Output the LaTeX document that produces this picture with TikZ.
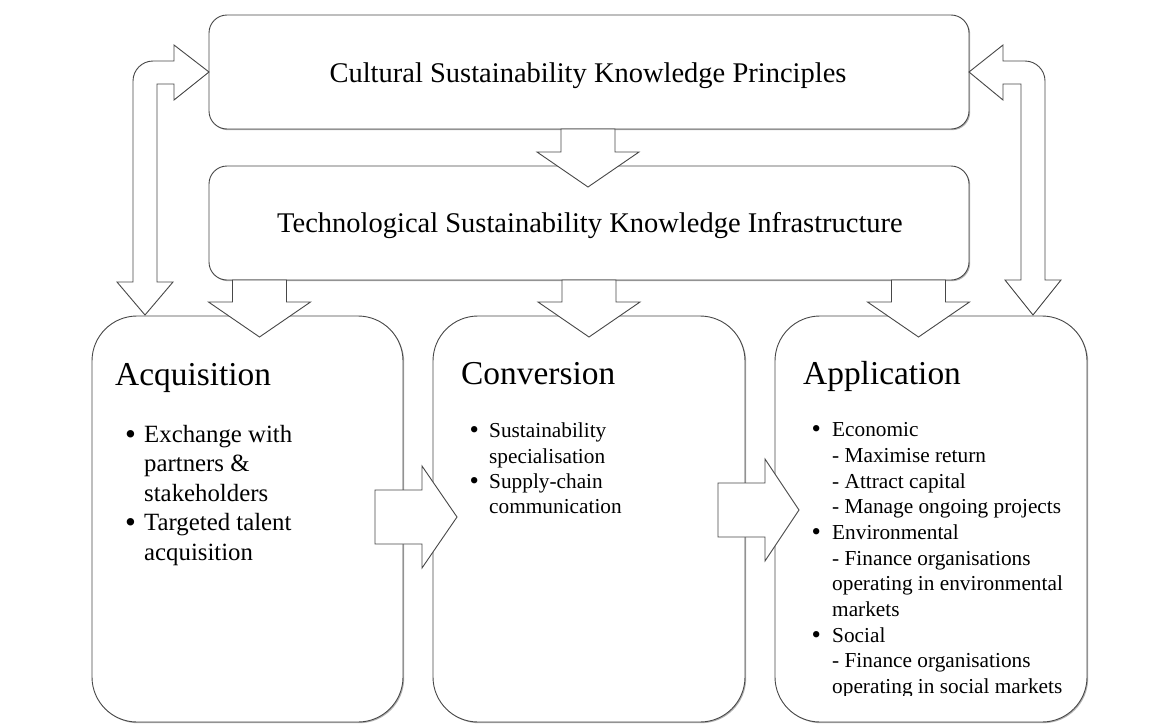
\documentclass[tikz,border=0pt]{standalone}
\usepackage{fontspec}
\usepackage{graphicx}
\setmainfont{Liberation Serif}
\usetikzlibrary{shadows}
\newcommand\mybul{\scalebox{1.25}{•}}
\begin{document}
\begin{tikzpicture}[x=1pt,y=-1pt,
  box/.style={draw=black!72, line width=0.9pt, fill=white, rounded corners=#1,
    inner sep=0pt, outer sep=0pt,
    drop shadow={shadow xshift=1.2pt, shadow yshift=-1.2pt, opacity=0.3, fill=black}},
  blk/.style={draw=black!72, line width=0.9pt, fill=white, line join=miter},
  bigtxt/.style={font=\fontsize{28.5}{34}\selectfont, anchor=base, inner sep=0pt},
  headtxt/.style={font=\fontsize{33.4}{40}\selectfont, anchor=base west, inner sep=0pt},
  acqtxt/.style={font=\fontsize{24.8}{29.5}\selectfont, anchor=base west, inner sep=0pt},
  smalltxt/.style={font=\fontsize{21.3}{25.6}\selectfont, anchor=base west, inner sep=0pt}]
\useasboundingbox (0,0) rectangle (1164,723);
\fill[white] (0,0) rectangle (1164,723);

% boxes
\node[box=18pt, minimum width=760pt, minimum height=114pt] (cult) at (589,72) {};
\node[box=18pt, minimum width=760pt, minimum height=114pt] (tech) at (589,223) {};
\node[box=45pt, minimum width=311pt, minimum height=406pt] (acq) at (247.5,519) {};
\node[box=45pt, minimum width=312pt, minimum height=406pt] (conv) at (589,519) {};
\node[box=45pt, minimum width=312pt, minimum height=406pt] (app) at (931,519) {};

% left double arrow (cult <-> acq)
\draw[blk] (cult.west) -- (174,45) -- (174,61) -- (153,61)
  .. controls (142,61) and (133,70) .. (133,81) -- (133,282) -- (117,282)
  -- (145,315) -- (173,282) -- (157,282) -- (157,84) -- (174,84) -- (174,100) -- cycle;
% right double arrow (cult <-> app)
\draw[blk] (cult.east) -- (1003,45) -- (1003,61) -- (1025,61)
  .. controls (1036,61) and (1045,70) .. (1045,81) -- (1045,280) -- (1061,280)
  -- (1033,315) -- (1005,280) -- (1021,280) -- (1021,84) -- (1003,84) -- (1003,100) -- cycle;

% down arrows
\foreach \xc/\ys/\yb/\yt in {588/129/152/187, 259.5/280/302/337, 589/280/302/337, 918.5/280/302/337}{
  \draw[blk] ({\xc-27},\ys) -- ({\xc-27},\yb) -- ({\xc-51},\yb) -- (\xc,\yt)
    -- ({\xc+51},\yb) -- ({\xc+27},\yb) -- ({\xc+27},\ys) -- cycle;
}
% horizontal arrows
\foreach \xs/\xb/\xt/\yc in {375/422/457/517, 718/765/799/510}{
  \draw[blk] (\xs,{\yc-27}) -- (\xb,{\yc-27}) -- (\xb,{\yc-51}) -- (\xt,\yc)
    -- (\xb,{\yc+51}) -- (\xb,{\yc+27}) -- (\xs,{\yc+27}) -- cycle;
}

% top texts
\node[bigtxt] (cultT) at (588,82) {Cultural Sustainability Knowledge Principles};
\node[bigtxt] (techT) at (590,232) {Technological Sustainability Knowledge Infrastructure};

% titles
\node[headtxt] (acqT) at (115,385) {Acquisition};
\node[headtxt] (convT) at (461,384) {Conversion};
\node[headtxt] (appT) at (803,384) {Application};

% acquisition list
\foreach \y/\t [count=\i] in {442/Exchange with, 471.5/partners \&, 501/stakeholders, 530.5/Targeted talent, 560/acquisition}
  \node[acqtxt] (acqL\i) at (144,\y) {\t};
\foreach \y [count=\i] in {444, 532.5}
  \node[acqtxt] (acqB\i) at (125,\y) {\mybul};

% conversion list
\foreach \y/\t [count=\i] in {437/Sustainability, 463/specialisation, 488/Supply-chain, 513/communication}
  \node[smalltxt] (convL\i) at (489,\y) {\t};
\foreach \y [count=\i] in {438.7, 489.7}
  \node[smalltxt] (convB\i) at (469.5,\y) {\mybul};

% application list
\begin{scope}
\clip (775,316) rectangle (1087,695.5);
\foreach \y/\t [count=\i] in {436/Economic, 462/- Maximise return, 488/- Attract capital,
   513/- Manage ongoing projects, 539/Environmental, 565/- Finance organisations,
   590.5/operating in environmental, 616/markets, 642/Social,
   667.5/- Finance organisations, 693/operating in social markets}
  \node[smalltxt] (appL\i) at (832,\y) {\t};
\end{scope}
\foreach \y [count=\i] in {437.7, 540.7, 643.7}
  \node[smalltxt] (appB\i) at (811.5,\y) {\mybul};
\end{tikzpicture}
\end{document}
